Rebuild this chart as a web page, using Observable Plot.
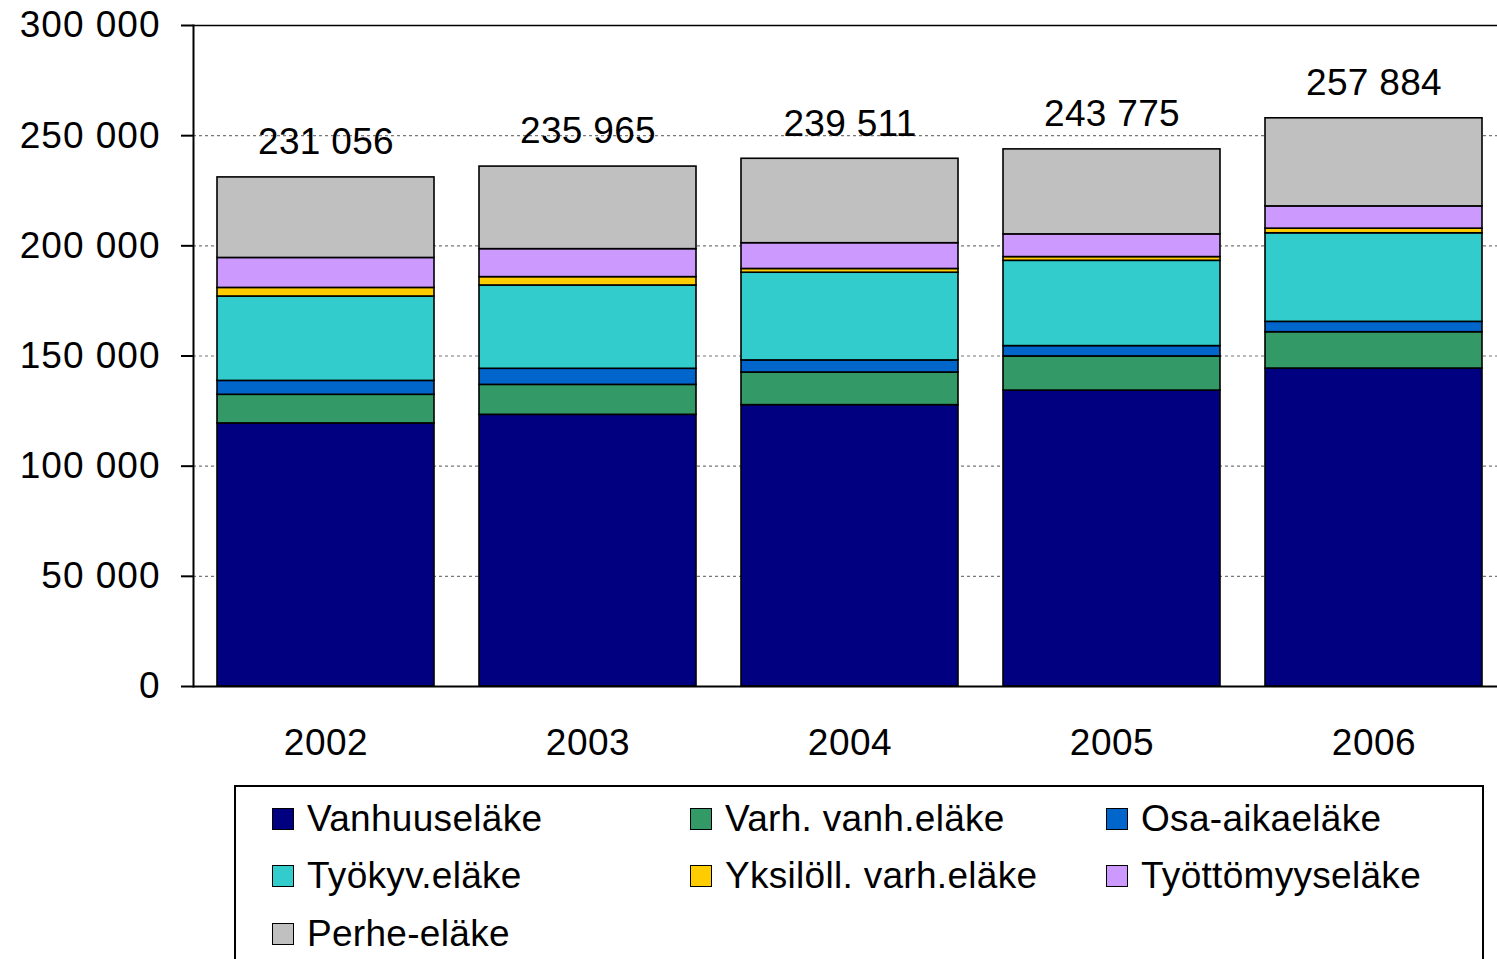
<!DOCTYPE html>
<html>
<head>
<meta charset="utf-8">
<script src="https://cdn.jsdelivr.net/npm/d3@7"></script>
<script src="https://cdn.jsdelivr.net/npm/@observablehq/plot@0.6"></script>
<style>
  html, body { margin: 0; padding: 0; background: #fff; overflow: hidden; }
  body { font-family: "Liberation Sans", Arial, sans-serif; width: 1497px; height: 959px; position: relative; }
  #chart { position: absolute; left: 0; top: 0; width: 1506px; }
  #chart svg { max-width: none !important; }
  #chart g[aria-label="text"] text { letter-spacing: 0.3px; }
  #chart g[aria-label="x-axis tick label"] text { letter-spacing: 0.5px; }
  #legend {
    position: absolute; left: 234px; top: 785px; width: 1250px; height: 220px;
    border: 2px solid #000; box-sizing: border-box;
    display: grid; grid-template-columns: 418px 416px 400px; grid-auto-rows: 57.5px;
    padding-left: 36px; padding-top: 3px;
    font-size: 37px; color: #000; letter-spacing: 0.3px;
  }
  .item { display: flex; align-items: center; white-space: nowrap; }
  .sw { width: 20px; height: 20px; border: 1.5px solid #000; margin-right: 13px; flex: none; }
</style>
</head>
<body>
<div id="chart"></div>
<div id="legend"></div>
<script>
const years = ["2002", "2003", "2004", "2005", "2006"];
const seriesNames = ["Vanhuuseläke", "Varh. vanh.eläke", "Osa-aikaeläke", "Työkyv.eläke", "Yksilöll. varh.eläke", "Työttömyyseläke", "Perhe-eläke"];
const seriesColors = ["#000080", "#339966", "#0066CC", "#33CCCC", "#FFCC00", "#CC99FF", "#C0C0C0"];
const vanhuus    = [119400, 123300, 127700, 134300, 144300];
const varhVanh   = [13000, 13600, 14800, 15500, 16500];
const osaAika    = [6300, 7300, 5500, 4700, 4700];
const tyokyvyt   = [38300, 37800, 39800, 38700, 40200];
const yksiloll   = [3900, 3800, 1700, 1700, 2100];
const tyottomyys = [13600, 12700, 11700, 10300, 10100];
const perhe      = [36556, 37465, 38311, 38575, 39984];
const totals     = [231056, 235965, 239511, 243775, 257884];
const yTicks     = [0, 50000, 100000, 150000, 200000, 250000, 300000];

const seriesValues = [vanhuus, varhVanh, osaAika, tyokyvyt, yksiloll, tyottomyys, perhe];
const rows = [];
seriesNames.forEach((s, i) => years.forEach((y, j) => rows.push({year: y, series: s, value: seriesValues[i][j]})));
const totalRows = years.map((y, j) => ({year: y, total: totals[j]}));

const fmt = d => d3.format(",")(d).replace(/,/g, " ");

const chart = Plot.plot({
  width: 1506,
  height: 775,
  marginLeft: 193,
  marginRight: 0,
  marginTop: 25,
  marginBottom: 89,
  style: {fontFamily: "'Liberation Sans', Arial, sans-serif", fontSize: "37px", color: "#000", background: "#fff", overflow: "visible", maxWidth: "none", letterSpacing: "1px"},
  x: {domain: years, paddingInner: 0.17, paddingOuter: 0.085, label: null},
  y: {domain: [0, 300000], label: null},
  color: {domain: seriesNames, range: seriesColors},
  marks: [
    Plot.ruleY(yTicks.filter(d => d > 0 && d < 300000), {stroke: "#777", strokeDasharray: "3,3", strokeWidth: 1.2}),
    Plot.barY(rows, Plot.stackY({x: "year", y: "value", fill: "series", stroke: "#000", strokeWidth: 1.6, order: null})),
    Plot.ruleY([300000], {stroke: "#000", strokeWidth: 1.6}),
    Plot.ruleY([0], {stroke: "#000", strokeWidth: 2}),
    Plot.frame({anchor: "left", stroke: "#000", strokeWidth: 2}),
    Plot.axisY({ticks: yTicks, tickFormat: fmt, tickSize: 12, tickPadding: 21, fontSize: 37, stroke: "#000", strokeWidth: 2, label: null}),
    Plot.axisX({tickSize: 0, tickPadding: 42, fontSize: 37, label: null}),
    Plot.text(totalRows, {x: "year", y: "total", text: d => fmt(d.total), dy: -35, lineAnchor: "middle", fontSize: 37, fill: "#000"})
  ]
});
document.getElementById("chart").appendChild(chart);

const legend = document.getElementById("legend");
seriesNames.forEach((s, i) => {
  const it = document.createElement("div");
  it.className = "item";
  const sw = document.createElement("span");
  sw.className = "sw";
  sw.style.background = seriesColors[i];
  const tx = document.createElement("span");
  tx.textContent = s;
  it.appendChild(sw); it.appendChild(tx);
  legend.appendChild(it);
});
</script>
</body>
</html>
